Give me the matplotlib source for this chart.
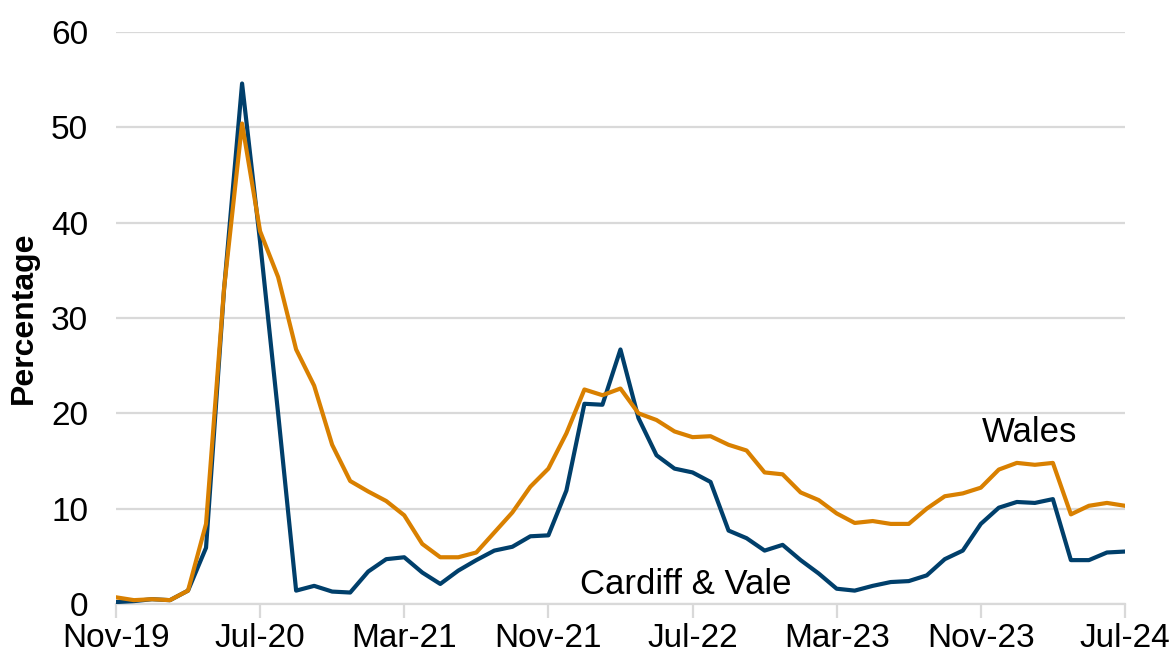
import matplotlib
matplotlib.use("Agg")
import matplotlib.pyplot as plt
import numpy as np
import pandas as pd

plt.rcParams["font.family"] = ["Liberation Sans", "DejaVu Sans"]

# monthly, Nov-19 .. Jul-24
months = pd.date_range("2019-11-01", "2024-07-01", freq="MS")

cardiff_vale = [
    0.2, 0.3, 0.5, 0.4, 1.4, 5.9, 33.0, 54.6, 38.0, 20.0,
    1.4, 1.9, 1.3, 1.2, 3.4, 4.7, 4.9, 3.3, 2.1, 3.5,
    4.6, 5.6, 6.0, 7.1, 7.2, 11.9, 21.0, 20.9, 26.7, 19.5,
    15.6, 14.2, 13.8, 12.8, 7.7, 6.9, 5.6, 6.2, 4.6, 3.2,
    1.6, 1.4, 1.9, 2.3, 2.4, 3.0, 4.7, 5.6, 8.4, 10.1,
    10.7, 10.6, 11.0, 4.6, 4.6, 5.4, 5.5,
]
wales = [
    0.7, 0.4, 0.5, 0.4, 1.4, 8.4, 33.1, 50.4, 39.1, 34.3,
    26.7, 22.9, 16.7, 12.9, 11.8, 10.8, 9.3, 6.3, 4.9, 4.9,
    5.4, 7.5, 9.6, 12.3, 14.2, 17.9, 22.5, 21.9, 22.6, 20.0,
    19.3, 18.1, 17.5, 17.6, 16.7, 16.1, 13.8, 13.6, 11.7, 10.9,
    9.5, 8.5, 8.7, 8.4, 8.4, 10.0, 11.3, 11.6, 12.2, 14.1,
    14.8, 14.6, 14.8, 9.4, 10.3, 10.6, 10.3,
]
tick_step = 8

x = np.arange(len(months))
labels = [m.strftime("%b-%y") for m in months]

fig = plt.figure(figsize=(11.7, 6.54), dpi=100)
ax = fig.add_axes([0.0991, 0.0765, 0.8624, 0.8745])

ax.plot(x, cardiff_vale, color="#003f6b", lw=3.0, solid_joinstyle="round", zorder=3)
ax.plot(x, wales, color="#d98000", lw=3.0, solid_joinstyle="round", zorder=4)

ax.set_xlim(0, len(months) - 1)
ax.set_ylim(0, 60)
ax.set_yticks(range(0, 61, 10))
ax.set_xticks(x[::tick_step])
ax.set_xticklabels(labels[::tick_step])

ax.grid(axis="y", color="#d9d9d9", lw=1.6)
ax.set_axisbelow(True)
for s in ["top", "right", "left"]:
    ax.spines[s].set_visible(False)
ax.spines["bottom"].set_color("#d9d9d9")
ax.spines["bottom"].set_linewidth(1.6)
ax.tick_params(axis="y", length=0, pad=20, labelsize=24)
ax.tick_params(axis="x", length=10, width=1.6, color="#d9d9d9", pad=4, labelsize=24)

ax.set_ylabel("Percentage", fontsize=23, fontweight="bold", labelpad=9)

ax.text(50.7, 18.0, "Wales", fontsize=25, ha="center", va="center")
ax.text(31.6, 2.0, "Cardiff & Vale", fontsize=25, ha="center", va="center")

fig.savefig("out.png", dpi=100)
plt.close(fig)
